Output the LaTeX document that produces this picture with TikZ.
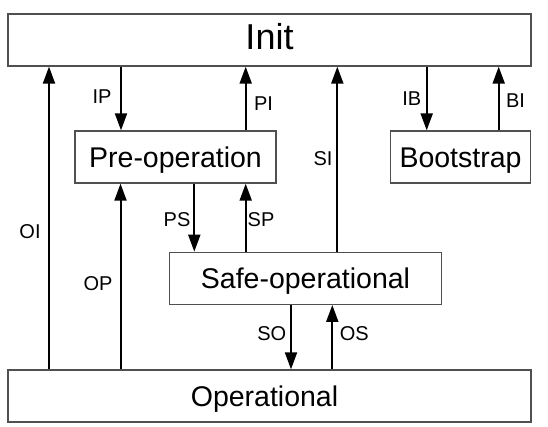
\documentclass[tikz,border=0pt]{standalone}
\usepackage{fontspec}
\setmainfont{Liberation Sans}
\usetikzlibrary{arrows.meta}
\definecolor{boxline}{HTML}{505050}
\tikzset{
  state/.style={draw=boxline, line width=1.3pt, fill=white, inner sep=0pt, font=\fontsize{28.5}{30}\selectfont, text height=20.4pt, text depth=0pt},
  arr/.style={line width=2pt, -{Triangle[length=17pt,width=12pt]}},
  lbl/.style={inner sep=0pt, font=\fontsize{20}{22}\selectfont, text height=14pt, text depth=0pt}
}
\begin{document}
\begin{tikzpicture}[x=1pt,y=-1pt]
\useasboundingbox (0,0) rectangle (548,426);
\fill[white] (0,0) rectangle (548,426);
% boxes
\node[state, minimum width=523pt, minimum height=52pt, font=\fontsize{36}{38}\selectfont, text height=25.8pt, text depth=6pt] (init) at (269.5,40) {Init};
\node[state, minimum width=201pt, minimum height=52pt] (pre) at (175.5,157) {Pre-operation};
\node[state, minimum width=140pt, minimum height=52pt] (boot) at (460.5,157) {Bootstrap};
\node[state, minimum width=272pt, minimum height=52pt] (safe) at (305.5,278.3) {Safe-operational};
\node[state, minimum width=523pt, minimum height=52pt] (oper) at (269.5,396) {Operational\hspace*{10pt}};
% x positions of connectors
\coordinate (xOI) at (49,0);
\coordinate (xOP) at (120.5,0);
\coordinate (xIP) at (121,0);
\coordinate (xPI) at (245.7,0);
\coordinate (xPS) at (194.3,0);
\coordinate (xSP) at (245.7,0);
\coordinate (xSI) at (337.3,0);
\coordinate (xIB) at (426.7,0);
\coordinate (xBI) at (498.7,0);
\coordinate (xSO) at (291,0);
\coordinate (xOS) at (332.3,0);
% connectors
\draw[arr] (oper.north -| xOI) -- (init.south -| xOI);
\draw[arr] (oper.north -| xOP) -- (pre.south -| xOP);
\draw[arr] (init.south -| xIP) -- (pre.north -| xIP);
\draw[arr] (pre.north -| xPI) -- (init.south -| xPI);
\draw[arr] (pre.south -| xPS) -- (safe.north -| xPS);
\draw[arr] (safe.north -| xSP) -- (pre.south -| xSP);
\draw[arr] (safe.north -| xSI) -- (init.south -| xSI);
\draw[arr] (init.south -| xIB) -- (boot.north -| xIB);
\draw[arr] (boot.north -| xBI) -- (init.south -| xBI);
\draw[arr] (safe.south -| xSO) -- (oper.north -| xSO);
\draw[arr] (oper.north -| xOS) -- (safe.south -| xOS);
% labels
\node[lbl] (lIP) at (102,96.7) {IP};
\node[lbl] (lPI) at (263.5,103.3) {PI};
\node[lbl] (lSI) at (323,158) {SI};
\node[lbl] (lIB) at (411.7,98.3) {IB};
\node[lbl] (lBI) at (515.5,100.7) {BI};
\node[lbl] (lOI) at (30,231.7) {OI};
\node[lbl] (lOP) at (98,283.3) {OP};
\node[lbl] (lPS) at (177,219.3) {PS};
\node[lbl] (lSP) at (261,219.3) {SP};
\node[lbl] (lSO) at (271.7,333.3) {SO};
\node[lbl] (lOS) at (354.3,333.3) {OS};
\end{tikzpicture}
\end{document}
